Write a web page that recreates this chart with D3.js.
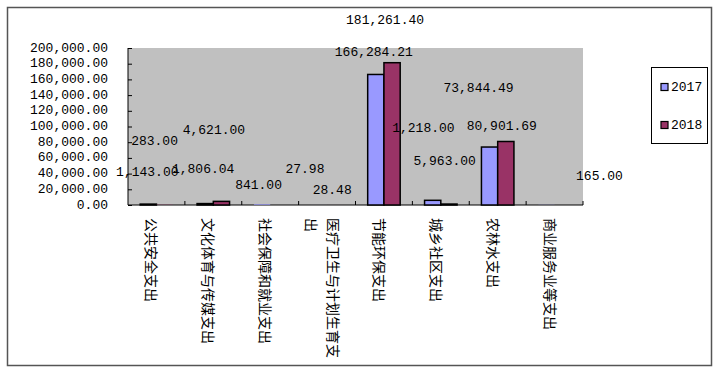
<!DOCTYPE html>
<html>
<head>
<meta charset="utf-8">
<script src="https://cdn.jsdelivr.net/npm/d3@7"></script>
<style>
  body { margin: 0; background: #fff; }
</style>
</head>
<body>
<div id="chart"></div>
<script>
// categories and values
const categories = ["公共安全支出", "文化体育与传媒支出", "社会保障和就业支出", "医疗卫生与计划生育支出",
  "节能环保支出", "城乡社区支出", "农林水支出", "商业服务业等支出"];
const seriesNames = ["2017", "2018"];
const values2017 = [1143.00, 1806.04, 841.00, 27.98, 166284.21, 5963.00, 73844.49, 165.00];
const values2018 = [283.00, 4621.00, null, 28.48, 181261.40, 1218.00, 80901.69, null];
const yTicks = [0, 20000, 40000, 60000, 80000, 100000, 120000, 140000, 160000, 180000, 200000];

// label shifts (px) from the top-centre of each bar, the labels were dragged around in the original
const labelShift2017 = [[-1, -32], [-2, -34], [-3.5, -19], [-14, -35], [-2, -22], [12, -39], [-11, -59], [53, -28]];
const labelShift2018 = [[-10, -63], [-7.5, -71], null, [-3, -14], [-7, -42], [-25.5, -76], [-4, -15], null];

const colors = { "2017": "#9999FF", "2018": "#993366" };
const W = 720, H = 374;
const plot = { left: 128, right: 583, top: 48, bottom: 205 };
const monoFont = "'Liberation Mono', monospace";
const cjkFont = "'Noto Sans CJK SC', sans-serif";

const svg = d3.select("#chart").append("svg")
  .attr("width", W).attr("height", H);

// outer frame
svg.append("rect")
  .attr("x", 7.5).attr("y", 7.5)
  .attr("width", 704).attr("height", 358)
  .attr("fill", "#fff")
  .attr("stroke", "#555").attr("stroke-width", 1.5);

const x0 = d3.scaleBand().domain(categories).range([plot.left, plot.right]).padding(0);
const x1 = d3.scaleBand().domain(seriesNames).range([0, x0.bandwidth()]).paddingInner(0).paddingOuter(0.75);
const y = d3.scaleLinear().domain([0, 200000]).range([plot.bottom, plot.top]);

// plot background
svg.append("rect")
  .attr("x", plot.left).attr("y", plot.top)
  .attr("width", plot.right - plot.left).attr("height", plot.bottom - plot.top)
  .attr("fill", "#C0C0C0");

// y axis, ticks inside
const yAxis = svg.append("g")
  .attr("transform", `translate(${plot.left},0)`)
  .call(d3.axisRight(y).tickValues(yTicks).tickSize(4).tickFormat(""));
yAxis.select(".domain").attr("stroke", "#000").attr("d", `M0,${plot.top}V${plot.bottom}`);
yAxis.selectAll(".tick line").attr("stroke", "#000");

svg.append("g").selectAll("text")
  .data(yTicks)
  .enter().append("text")
  .attr("x", 108)
  .attr("y", d => y(d))
  .attr("text-anchor", "end")
  .attr("dominant-baseline", "central")
  .style("font-family", monoFont)
  .style("font-size", "13px")
  .attr("fill", "#000")
  .text(d => d3.format(",.2f")(d));

// x axis, ticks inside
const bounds = categories.map(c => x0(c)).concat([plot.right]);
const xAxis = svg.append("g");
xAxis.append("line")
  .attr("x1", plot.left).attr("x2", plot.right)
  .attr("y1", plot.bottom).attr("y2", plot.bottom)
  .attr("stroke", "#000");
xAxis.selectAll("line.tick")
  .data(bounds.slice(1))
  .enter().append("line")
  .attr("class", "tick")
  .attr("x1", d => d).attr("x2", d => d)
  .attr("y1", plot.bottom).attr("y2", plot.bottom - 4)
  .attr("stroke", "#000");

// bars
const barData = [];
categories.forEach((c, i) => {
  [values2017[i], values2018[i]].forEach((v, j) => {
    if (v != null) barData.push({ cat: c, series: seriesNames[j], value: v, i: i, j: j });
  });
});

svg.append("g").selectAll("rect")
  .data(barData)
  .enter().append("rect")
  .attr("x", d => x0(d.cat) + x1(d.series))
  .attr("y", d => y(d.value))
  .attr("width", x1.bandwidth())
  .attr("height", d => y(0) - y(d.value))
  .attr("fill", d => colors[d.series])
  .attr("stroke", "#000")
  .attr("stroke-width", d => (y(0) - y(d.value)) < 0.8 ? 0 : 1.5);

// data labels
svg.append("g").selectAll("text")
  .data(barData)
  .enter().append("text")
  .attr("x", d => {
    const s = (d.j === 0 ? labelShift2017 : labelShift2018)[d.i];
    return x0(d.cat) + x1(d.series) + x1.bandwidth() / 2 + s[0];
  })
  .attr("y", d => {
    const s = (d.j === 0 ? labelShift2017 : labelShift2018)[d.i];
    return y(d.value) + s[1];
  })
  .attr("text-anchor", "middle")
  .attr("dominant-baseline", "central")
  .style("font-family", monoFont)
  .style("font-size", "13px")
  .attr("fill", "#000")
  .text(d => d3.format(",.2f")(d.value));

// category labels, rotated 90deg, wrapped after 10 chars
const maxChars = 10, lineGap = 22;
categories.forEach(c => {
  const lines = [];
  for (let k = 0; k < c.length; k += maxChars) lines.push(c.slice(k, k + maxChars));
  const cx = x0(c) + x0.bandwidth() / 2;
  lines.forEach((ln, li) => {
    const off = (li - (lines.length - 1) / 2) * lineGap;
    svg.append("text")
      .attr("transform", `translate(${cx + 5 - off - 9},${218}) rotate(90)`)
      .attr("text-anchor", "start")
      .attr("dominant-baseline", "central")
      .style("font-family", cjkFont)
      .style("font-size", "14px")
      .attr("fill", "#000")
      .text(ln);
  });
});

// legend
const legend = svg.append("g");
legend.append("rect")
  .attr("x", 651.5).attr("y", 67.5)
  .attr("width", 56).attr("height", 76)
  .attr("fill", "#fff").attr("stroke", "#000").attr("stroke-width", 1);
seriesNames.forEach((s, k) => {
  const cy = 87 + k * 38;
  legend.append("rect")
    .attr("x", 661).attr("y", cy - 3.5)
    .attr("width", 7).attr("height", 7)
    .attr("fill", colors[s]).attr("stroke", "#000").attr("stroke-width", 1.2);
  legend.append("text")
    .attr("x", 671).attr("y", cy)
    .attr("dominant-baseline", "central")
    .style("font-family", monoFont)
    .style("font-size", "13px")
    .attr("fill", "#000")
    .text(s);
});
</script>
</body>
</html>
